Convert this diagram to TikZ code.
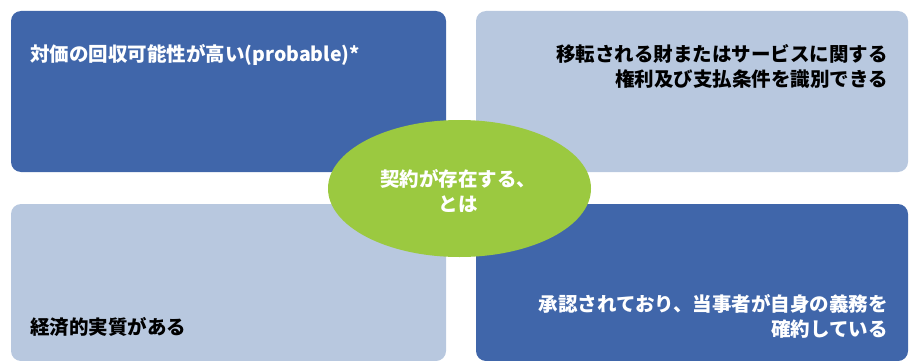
\documentclass[tikz,border=0pt]{standalone}
\usepackage{fontspec}
\setmainfont{Noto Sans CJK JP}
\usetikzlibrary{shapes.geometric}
\definecolor{darkblue}{HTML}{4066AA}
\definecolor{paleblue}{HTML}{B8C8DF}
\definecolor{leafgreen}{HTML}{9BC940}
\tikzset{
	panel/.style={rectangle, rounded corners=10pt, draw=none, inner sep=0pt},
	panellabel/.style={inner sep=0pt, font=\fontsize{19.5}{25}\selectfont\bfseries},
}
\begin{document}
\begin{tikzpicture}[x=1pt,y=-1pt]
%	\draw[style=help lines] (0,0) grid (912,361);
	\useasboundingbox (0,0) rectangle (912,361);
	
	%Panels
	\node[panel, fill=darkblue, minimum width=435pt, minimum height=161pt] (probable) at (228.5,91.5) {};
	\node[panel, fill=paleblue, minimum width=432pt, minimum height=161pt] (rights) at (692,91.5) {};
	\node[panel, fill=paleblue, minimum width=435pt, minimum height=157pt] (substance) at (228.5,282.5) {};
	\node[panel, fill=darkblue, minimum width=432pt, minimum height=157pt] (approved) at (692,282.5) {};
	
	%Text
	\node[panellabel, anchor=west, text=white] (probabletext) at (30,55) {対価の回収可能性が高い(probable)*};
	\node[panellabel, anchor=east, align=right] (rightstext) at (888,66.5) {移転される財またはサービスに関する\\権利及び支払条件を識別できる};
	\node[panellabel, anchor=west] (substancetext) at (30,327) {経済的実質がある};
	\node[panellabel, anchor=east, align=right, text=white] (approvedtext) at (888,316.5) {承認されており、当事者が自身の義務を\\確約している};
	
	%Centre
	\node[ellipse, fill=leafgreen, minimum width=263pt, minimum height=137pt, inner sep=0pt] (contract) at (459.5,188.5) {};
	\node[panellabel, align=center, text=white] (contracttext) at (458,191.5) {契約が存在する、\\とは};
\end{tikzpicture}
\end{document}
